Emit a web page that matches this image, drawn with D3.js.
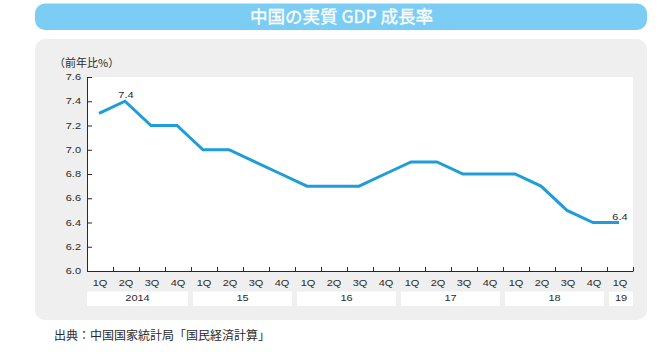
<!DOCTYPE html>
<html><head><meta charset="utf-8">
<script src="https://cdn.jsdelivr.net/npm/d3@7"></script>
<style>
html,body{margin:0;padding:0;background:#fff;}
svg{display:block;}
</style></head>
<body>
<script>
const title = "中国の実質 GDP 成長率";
const yTitle = "（前年比%）";
const source = "出典：中国国家統計局「国民経済計算」";
const quarters = ["1Q","2Q","3Q","4Q","1Q","2Q","3Q","4Q","1Q","2Q","3Q","4Q","1Q","2Q","3Q","4Q","1Q","2Q","3Q","4Q","1Q"];
const gdp = [7.3,7.4,7.2,7.2,7.0,7.0,6.9,6.8,6.7,6.7,6.7,6.8,6.9,6.9,6.8,6.8,6.8,6.7,6.5,6.4,6.4];
const years = ["2014","15","16","17","18","19"];
const yearQuarterCounts = [4,4,4,4,4,1];
const yTicks = [6.0,6.2,6.4,6.6,6.8,7.0,7.2,7.4,7.6];
const labeledIdx = [1,20];

const W = 662, H = 355;
const latin = "'Liberation Sans', Arial, 'Noto Sans CJK JP', sans-serif";
const cjk = "'Noto Sans CJK JP', sans-serif";
const ink = "#2a2a2a";
const svg = d3.select("body").append("svg").attr("width", W).attr("height", H);

// title bar
svg.append("rect").attr("x",35).attr("y",3.5).attr("width",612).attr("height",26.5).attr("rx",10).attr("fill","#7ccdf3");
svg.append("text").attr("x",341.5).attr("y",23).attr("text-anchor","middle")
  .attr("font-family",cjk).attr("font-size",17.5).attr("fill","#fff")
  .attr("stroke","#fff").attr("stroke-width",0.3).text(title);

// panel
svg.append("rect").attr("x",35).attr("y",39).attr("width",612).attr("height",281).attr("rx",10).attr("fill","#efefef");

const x0 = 87, x1 = 633, yTop = 77, yBot = 271;
const x = d3.scaleBand().domain(d3.range(quarters.length)).range([x0,x1]).padding(0);
const y = d3.scaleLinear().domain([6.0,7.6]).range([yBot,yTop]);

svg.append("rect").attr("x",x0).attr("y",yTop).attr("width",x1-x0).attr("height",yBot-yTop).attr("fill","#fff");

function sText(g, tx, ty, str, anchor, size, sy){
  return g.append("text").attr("transform",`translate(${tx},${ty}) scale(1,${sy})`)
    .attr("text-anchor",anchor).attr("font-family",latin).attr("font-size",size).attr("fill",ink).text(str);
}

// year boxes
let start = 0;
yearQuarterCounts.forEach((n,i)=>{
  const a = x(start), b = start+n >= quarters.length ? x1 : x(start+n);
  const bx0 = i===0 ? a : a+2;
  const bx1 = (i===years.length-1) ? b : b-3;
  svg.append("rect").attr("x",bx0).attr("y",291.5).attr("width",bx1-bx0).attr("height",14.5).attr("fill","#fff");
  sText(svg,(bx0+bx1)/2,300.8,years[i],"middle",11,0.82);
  start += n;
});

// y axis
const yAxis = d3.axisRight(y).tickValues(yTicks).tickSize(5).tickFormat("");
const gy = svg.append("g").attr("transform",`translate(${x0},0)`).call(yAxis);
gy.select(".domain").remove();
gy.selectAll("line").attr("stroke",ink);
svg.append("line").attr("x1",x0+0.5).attr("x2",x0+0.5).attr("y1",yTop).attr("y2",yBot).attr("stroke",ink);
yTicks.forEach(v=>sText(svg,81,y(v)+3,v.toFixed(1),"end",11,0.82));

// x axis
const boundaries = d3.range(1,quarters.length+1).map(i=> i<quarters.length ? x(i) : x1);
svg.append("line").attr("x1",x0).attr("x2",x1+0.5).attr("y1",yBot+0.5).attr("y2",yBot+0.5).attr("stroke",ink);
svg.selectAll("line.xt").data(boundaries).join("line").attr("class","xt")
  .attr("x1",d=>d+0.5).attr("x2",d=>d+0.5).attr("y1",yBot).attr("y2",yBot-4).attr("stroke",ink);
quarters.forEach((q,i)=>sText(svg,x(i)+x.bandwidth()/2,285.5,q,"middle",11,0.82));

// line
const line = d3.line().x((d,i)=>x(i)+x.bandwidth()/2-1).y(d=>y(d));
svg.append("path").datum(gdp).attr("d",line).attr("fill","none")
  .attr("stroke","#1e9dd8").attr("stroke-width",3).attr("stroke-linejoin","miter");

labeledIdx.forEach(i=>sText(svg,x(i)+x.bandwidth()/2,y(gdp[i])-3,gdp[i].toFixed(1),"middle",11,0.88));

// y title
svg.append("text").attr("x",54).attr("y",67).attr("font-family",cjk).attr("font-size",11).attr("fill",ink).text(yTitle);

// source
svg.append("text").attr("x",54).attr("y",339.5).attr("font-family",cjk).attr("font-size",12).attr("fill",ink).text(source);
</script>
</body></html>
